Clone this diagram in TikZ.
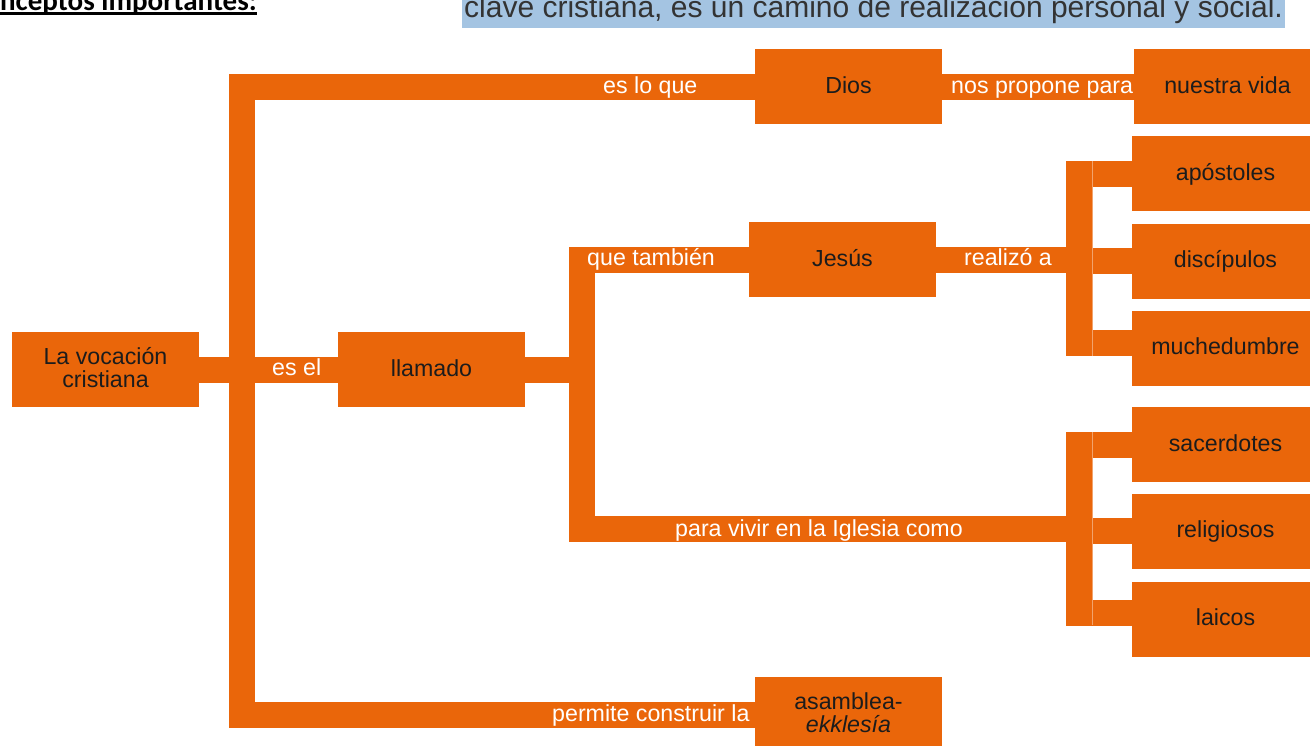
\documentclass[tikz,border=0pt]{standalone}
\usepackage{fontspec}
\setmainfont{Liberation Sans}
\newfontfamily\carlito{Carlito}
\definecolor{org}{RGB}{234,102,10}
\definecolor{hl}{RGB}{164,196,226}
\definecolor{ink}{RGB}{28,28,28}
\newcommand{\vstrut}{\rule[-5pt]{0pt}{23pt}}
\begin{document}
\begin{tikzpicture}[x=1pt,y=-1pt,
  box/.style={fill=org, minimum width=187pt, minimum height=75pt, inner sep=0pt, align=center, text=ink, font=\fontsize{23.2}{23}\selectfont},
  conn/.style={draw=org, line width=26pt, line cap=butt, line join=miter},
  lbl/.style={text=white, font=\fontsize{23.2}{23}\selectfont, inner sep=0pt, anchor=base west},
  seam/.style={draw=org!60!white, line width=0.8pt}]
\useasboundingbox (0,0) rectangle (1310,745);
\clip (0,0) rectangle (1310,745);

% header (cut-off page text)
\fill[hl] (462,-5) rectangle (1285,28);
\node[anchor=base west, inner sep=0pt, text=ink!90, font=\fontsize{30}{30}\selectfont] (sub) at (464,17.5) {clave cristiana, es un camino de realización personal y social.};
\node[anchor=base west, inner sep=0pt, font=\carlito\bfseries\fontsize{29}{29}\selectfont] (head) at (-31,10) {Conceptos importantes:};
\draw[line width=2.2pt] (0,13.5) -- (head.east |- 0,13.5);

% boxes
\node[box] (voc)  at (105.5,369.5) {\vstrut La vocación\\\vstrut cristiana};
\node[box] (llam) at (431.5,369.5) {\vstrut llamado};
\node[box] (dios) at (848.5,86.5) {\vstrut Dios};
\node[box] (vida) at (1227.5,86.5) {\vstrut nuestra vida};
\node[box] (jes)  at (842.5,259.5) {\vstrut Jesús};
\node[box] (apo)  at (1225.5,173.5) {\vstrut apóstoles};
\node[box] (dis)  at (1225.5,261) {\vstrut discípulos};
\node[box] (muc)  at (1225.5,348) {\vstrut muchedumbre};
\node[box] (sac)  at (1225.5,444.5) {\vstrut sacerdotes};
\node[box] (rel)  at (1225.5,531) {\vstrut religiosos};
\node[box] (lai)  at (1225.5,619) {\vstrut laicos};
\node[box] (asa)  at (848.5,714.5) {\vstrut asamblea-\\\vstrut\itshape ekklesía};

% trunk coordinates
\coordinate (t1b) at (242,714.5);
\coordinate (t2b) at (582,529);
\coordinate (t3b) at (1078.5,343);
\coordinate (t4b) at (1078.5,612.5);

% connectors
\draw[conn] (dios.west) -| (t1b) -- (asa.west);
\draw[conn] (voc.east) -- (llam.west);
\draw[conn] (dios.east) -- (vida.west);
\draw[conn] (llam.east) -- (llam.east -| t2b);
\draw[conn] (jes.west) -| (t2b) -- (t2b -| t4b);
\draw[conn] (jes.east) -- (jes.east -| t3b);
\draw[conn] (apo.west) -| (t3b) -- (t3b -| muc.west);
\draw[conn] (dis.west) -- (dis.west -| t3b);
\draw[conn] (sac.west) -| (t4b) -- (t4b -| lai.west);
\draw[conn] (rel.west) -- (rel.west -| t4b);

% seams
\draw[seam] (1092,161) -- (1092,356);
\draw[seam] (1092,432) -- (1092,625);

% labels
\node[lbl] (l1) at (603,93) {es lo que};
\node[lbl] (l2) at (951,93) {nos propone para};
\node[lbl] (l3) at (272,375.5) {es el};
\node[lbl] (l4) at (587,265) {que también};
\node[lbl] (l5) at (964,265) {realizó a};
\node[lbl] (l6) at (675,536) {para vivir en la Iglesia como};
\node[lbl] (l7) at (552,721) {permite construir la};
\end{tikzpicture}
\end{document}
